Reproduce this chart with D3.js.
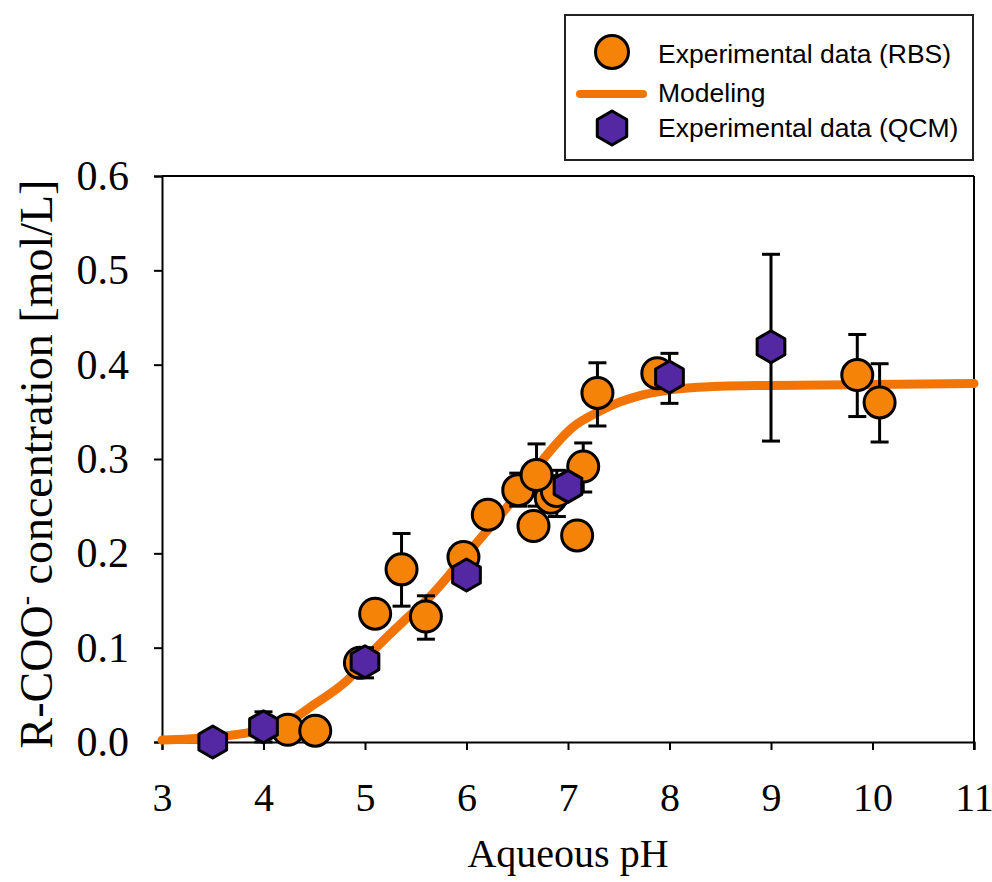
<!DOCTYPE html>
<html><head><meta charset="utf-8">
<script src="https://cdn.jsdelivr.net/npm/d3@7/dist/d3.min.js"></script>
<style>html,body{margin:0;padding:0;background:#fff;}svg{display:block;}</style>
</head><body>
<svg id="chart" width="992" height="882"></svg>
<script>
// ---- data ----
const rbsPH   = [4.24, 4.51, 4.95, 5.10, 5.36, 5.60, 5.97, 6.21, 6.51, 6.66, 6.83, 6.89, 6.69, 7.09, 7.15, 7.29, 7.88, 9.85, 10.07];
const rbsConc = [0.013, 0.012, 0.084, 0.136, 0.183, 0.133, 0.196, 0.241, 0.267, 0.229, 0.259, 0.266, 0.283, 0.219, 0.292, 0.370, 0.391, 0.389, 0.360];
const rbsHi   = [null, null, null, null, 0.221, 0.155, null, null, 0.285, null, null, 0.288, 0.316, null, 0.317, 0.402, null, 0.432, 0.401];
const rbsLo   = [null, null, null, null, 0.144, 0.109, null, null, 0.250, null, null, 0.239, 0.250, null, 0.265, 0.335, null, 0.345, 0.318];

const qcmPH   = [3.5, 4.0, 5.0, 6.0, 7.0, 8.0, 9.0];
const qcmConc = [0.000, 0.016, 0.085, 0.177, 0.271, 0.387, 0.419];
const qcmHi   = [null, 0.032, 0.100, null, null, 0.412, 0.517];
const qcmLo   = [null, 0.000, 0.068, null, null, 0.359, 0.319];

const modelPH   = [3.0, 3.5, 3.9, 4.25, 4.5, 4.85, 5.05, 5.38, 5.64, 5.9, 6.21, 6.46, 6.72, 7.05, 7.3, 7.5, 7.7, 8.0, 8.5, 9.0, 10.0, 11.0];
const modelConc = [0.002, 0.005, 0.011, 0.022, 0.040, 0.068, 0.093, 0.128, 0.154, 0.186, 0.225, 0.257, 0.295, 0.334, 0.350, 0.360, 0.367, 0.373, 0.377, 0.378, 0.379, 0.380];

const xTicks = [3, 4, 5, 6, 7, 8, 9, 10, 11];
const yTicks = [0.0, 0.1, 0.2, 0.3, 0.4, 0.5, 0.6];
const legendLabels = ["Experimental data (RBS)", "Modeling", "Experimental data (QCM)"];
const xTitle = "Aqueous pH";

// ---- layout ----
const svg = d3.select("#chart");
const L = 162, R = 974, T = 176, B = 742;
const x = d3.scaleLinear().domain([3, 11]).range([L, R]);
const y = d3.scaleLinear().domain([0, 0.6]).range([B, T]);

const ORANGE = "#F58307", CURVE = "#F27405", PURPLE = "#5427A3";
const serif = "'Liberation Serif','Times New Roman',serif";
const sans = "'Liberation Sans',Arial,sans-serif";

// axes
const xAxis = svg.append("g").attr("transform", `translate(0,${B})`)
  .call(d3.axisBottom(x).tickValues(xTicks).tickSize(8).tickPadding(33).tickFormat(d3.format("d")));
const yAxis = svg.append("g").attr("transform", `translate(${L},0)`)
  .call(d3.axisLeft(y).tickValues(yTicks).tickSize(8).tickPadding(25).tickFormat(d3.format(".1f")));
[xAxis, yAxis].forEach(g => {
  g.select(".domain").attr("stroke", "#000").attr("stroke-width", 2);
  g.selectAll(".tick line").attr("stroke", "#000").attr("stroke-width", 2);
  g.selectAll(".tick text").attr("font-family", serif).attr("fill", "#000");
});
xAxis.selectAll(".tick text").attr("font-size", 40).attr("dy", "0.71em");
yAxis.selectAll(".tick text").attr("font-size", 42);
// top/right frame
svg.append("line").attr("x1", L).attr("x2", R).attr("y1", T).attr("y2", T).attr("stroke", "#000").attr("stroke-width", 2);
svg.append("line").attr("x1", R).attr("x2", R).attr("y1", T).attr("y2", B + 8).attr("stroke", "#000").attr("stroke-width", 2);

// titles
svg.append("text").attr("x", (L + R) / 2).attr("y", 867).attr("text-anchor", "middle")
  .attr("font-family", serif).attr("font-size", 40).text(xTitle);
const yt = svg.append("text").attr("transform", `translate(52,464) rotate(-90)`)
  .attr("text-anchor", "middle").attr("font-family", serif).attr("font-size", 46);
yt.append("tspan").text("R-COO");
yt.append("tspan").attr("font-size", 28).attr("dy", -18).text("-");
yt.append("tspan").attr("dy", 18).text(" concentration [mol/L]");

// model curve
const line = d3.line().x((d, i) => x(modelPH[i])).y((d, i) => y(modelConc[i])).curve(d3.curveMonotoneX);
svg.append("path").datum(modelConc).attr("d", line).attr("fill", "none")
  .attr("stroke", CURVE).attr("stroke-width", 9).attr("stroke-linecap", "round");

// error bars helper
function errBars(ph, hi, lo) {
  const g = svg.append("g").attr("stroke", "#000").attr("stroke-width", 3);
  ph.forEach((p, i) => {
    if (hi[i] == null) return;
    const cx = x(p);
    g.append("line").attr("x1", cx).attr("x2", cx).attr("y1", y(hi[i])).attr("y2", y(lo[i]));
    g.append("line").attr("x1", cx - 9).attr("x2", cx + 9).attr("y1", y(hi[i])).attr("y2", y(hi[i]));
    g.append("line").attr("x1", cx - 9).attr("x2", cx + 9).attr("y1", y(lo[i])).attr("y2", y(lo[i]));
  });
}
function hexPath(r) {
  const pts = d3.range(6).map(k => {
    const a = -Math.PI / 2 + k * Math.PI / 3;
    return [r * Math.cos(a), r * Math.sin(a)];
  });
  return d3.line()(pts) + "Z";
}

// RBS
errBars(rbsPH, rbsHi, rbsLo);
svg.append("g").selectAll("circle").data(rbsConc).join("circle")
  .attr("cx", (d, i) => x(rbsPH[i])).attr("cy", d => y(d)).attr("r", 15.5)
  .attr("fill", ORANGE).attr("stroke", "#000").attr("stroke-width", 3);

// QCM
errBars(qcmPH, qcmHi, qcmLo);
svg.append("g").selectAll("path").data(qcmConc).join("path")
  .attr("transform", (d, i) => `translate(${x(qcmPH[i])},${y(d)})`)
  .attr("d", hexPath(16)).attr("fill", PURPLE).attr("stroke", "#000").attr("stroke-width", 3)
  .attr("stroke-linejoin", "round");

// legend
const lg = svg.append("g");
lg.append("rect").attr("x", 565).attr("y", 15).attr("width", 408).attr("height", 145)
  .attr("fill", "#fff").attr("stroke", "#222").attr("stroke-width", 2);
lg.append("circle").attr("cx", 612).attr("cy", 52).attr("r", 16.5).attr("fill", ORANGE).attr("stroke", "#000").attr("stroke-width", 3);
lg.append("line").attr("x1", 580).attr("x2", 643).attr("y1", 94).attr("y2", 94)
  .attr("stroke", CURVE).attr("stroke-width", 8).attr("stroke-linecap", "round");
lg.append("path").attr("transform", "translate(612,128)").attr("d", hexPath(17))
  .attr("fill", PURPLE).attr("stroke", "#000").attr("stroke-width", 3).attr("stroke-linejoin", "round");
const baselines = [63, 102, 137];
lg.selectAll("text.lab").data(legendLabels).join("text").attr("class", "lab")
  .attr("x", 658).attr("y", (d, i) => baselines[i])
  .attr("font-family", sans).attr("font-size", 26.5).attr("fill", "#000").text(d => d);
</script>
</body></html>
